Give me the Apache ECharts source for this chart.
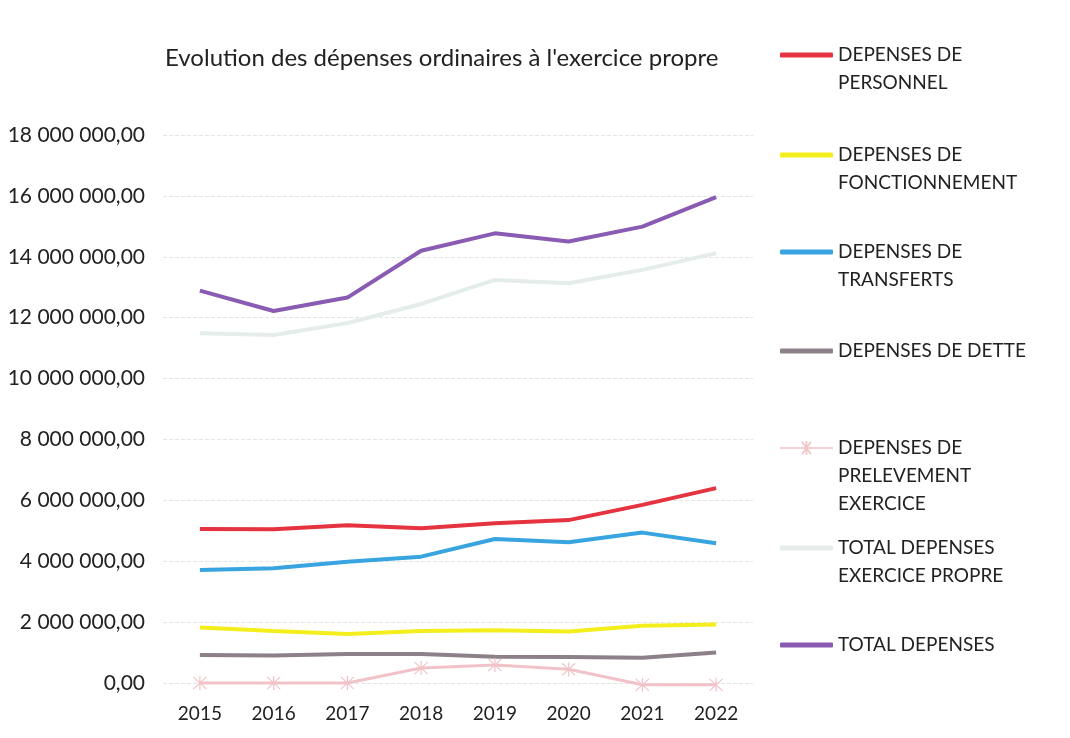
<!DOCTYPE html>
<html>
<head>
<meta charset="utf-8">
<script src="https://cdn.jsdelivr.net/npm/echarts@6/dist/echarts.min.js"></script>
<style>
  html, body { margin: 0; padding: 0; background: #fff; }
  #chart { width: 1070px; height: 738px; }
</style>
</head>
<body>
<div id="chart"></div>
<script>
  // data
  var years = ['2015', '2016', '2017', '2018', '2019', '2020', '2021', '2022']
  var personnel = [5060000, 5050000, 5180000, 5080000, 5250000, 5350000, 5850000, 6400000]
  var fonctionnement = [1820000, 1710000, 1610000, 1710000, 1730000, 1690000, 1880000, 1920000]
  var transferts = [3710000, 3770000, 3980000, 4150000, 4730000, 4620000, 4940000, 4590000]
  var dette = [920000, 900000, 950000, 950000, 860000, 850000, 830000, 1000000]
  var prelevement = [0, 0, 0, 490000, 590000, 450000, -60000, -60000]
  var totalPropre = [11490000, 11430000, 11820000, 12450000, 13240000, 13130000, 13570000, 14120000]
  var totalDepenses = [12890000, 12220000, 12660000, 14200000, 14770000, 14500000, 14990000, 15960000]

  var names = [
    'DEPENSES DE\nPERSONNEL',
    'DEPENSES DE\nFONCTIONNEMENT',
    'DEPENSES DE\nTRANSFERTS',
    'DEPENSES DE DETTE',
    'DEPENSES DE\nPRELEVEMENT\nEXERCICE',
    'TOTAL DEPENSES\nEXERCICE PROPRE',
    'TOTAL DEPENSES'
  ]
  var colors = ['#e5333f', '#f4ee1c', '#38a4e0', '#8c8189', '#f1c3c8', '#e4edea', '#8a5bb2']
  var legendTops = [13, 113, 210, 337, 378, 506, 631]

  var font = 'Lato, "Noto Sans", sans-serif'
  var star = 'path://M9.2 0L10.8 0L10.8 20L9.2 20Z M0.8 1.9L1.9 0.8L19.2 18.1L18.1 19.2Z M18.1 0.8L19.2 1.9L1.9 19.2L0.8 18.1Z'
  // legend icon for the marker series: thin line with the star in the middle
  var starLine = 'path://M0 9.2L53 9.2L53 10.8L0 10.8Z M25.7 3L27.3 3L27.3 17L25.7 17Z M21.5 4.4L22.6 3.3L31.5 15.6L30.4 16.7Z M30.4 3.3L31.5 4.4L22.6 16.7L21.5 15.6Z'

  function fmt(v) {
    var s = Math.round(v).toString().replace(/\B(?=(\d{3})+(?!\d))/g, ' ')
    return s + ',00'
  }

  var allData = [personnel, fonctionnement, transferts, dette, prelevement, totalPropre, totalDepenses]

  var series = allData.map(function (d, i) {
    var s = {
      name: names[i],
      type: 'line',
      data: d,
      clip: false,
      symbol: 'none',
      lineStyle: { width: 4, color: colors[i] },
      itemStyle: { color: colors[i] },
      z: i === 6 ? 5 : 2
    }
    if (i === 4) {
      s.symbol = star
      s.symbolSize = 14
      s.lineStyle.width = 3
    }
    return s
  })

  // one legend per item so each can sit where the original has it;
  // leading blank lines put the icon against the first text line
  var legends = names.map(function (n, i) {
    var lines = n.split('\n').length
    var pad = lines === 1 ? 0 : lines - 1
    return {
      data: [{ name: n, icon: i === 4 ? starLine : 'roundRect' }],
      orient: 'vertical',
      left: 780,
      top: legendTops[i],
      padding: 0,
      itemWidth: 53,
      itemHeight: i === 4 ? 14 : 5,
      itemGap: 0,
      selectedMode: false,
      itemStyle: { borderWidth: 0 },
      formatter: function (name) {
        var lead = ''
        for (var k = 0; k < pad; k++) lead += ' \n'
        return lead + name
      },
      textStyle: { fontFamily: font, fontSize: 19, color: '#222', lineHeight: 28 }
    }
  })

  var chart = echarts.init(document.getElementById('chart'))
  chart.setOption({
    backgroundColor: '#ffffff',
    animation: false,
    title: {
      text: "Evolution des dépenses ordinaires à l'exercice propre",
      left: 160,
      top: 41,
      textStyle: { fontFamily: font, fontSize: 24, fontWeight: 'normal', color: '#222' }
    },
    legend: legends,
    grid: { left: 163, right: 317, top: 135, bottom: 55 },
    xAxis: {
      type: 'category',
      data: years,
      boundaryGap: true,
      axisLine: { show: false },
      axisTick: { show: false },
      axisLabel: { fontFamily: font, fontSize: 19, color: '#222', margin: 21 }
    },
    yAxis: {
      type: 'value',
      min: 0,
      max: 18000000,
      interval: 2000000,
      axisLine: { show: false },
      axisTick: { show: false },
      splitLine: { lineStyle: { color: '#e4e4e4', type: 'dashed', width: 1 } },
      axisLabel: { fontFamily: font, fontSize: 21, color: '#222', margin: 18, formatter: fmt }
    },
    series: series
  })
</script>
</body>
</html>
